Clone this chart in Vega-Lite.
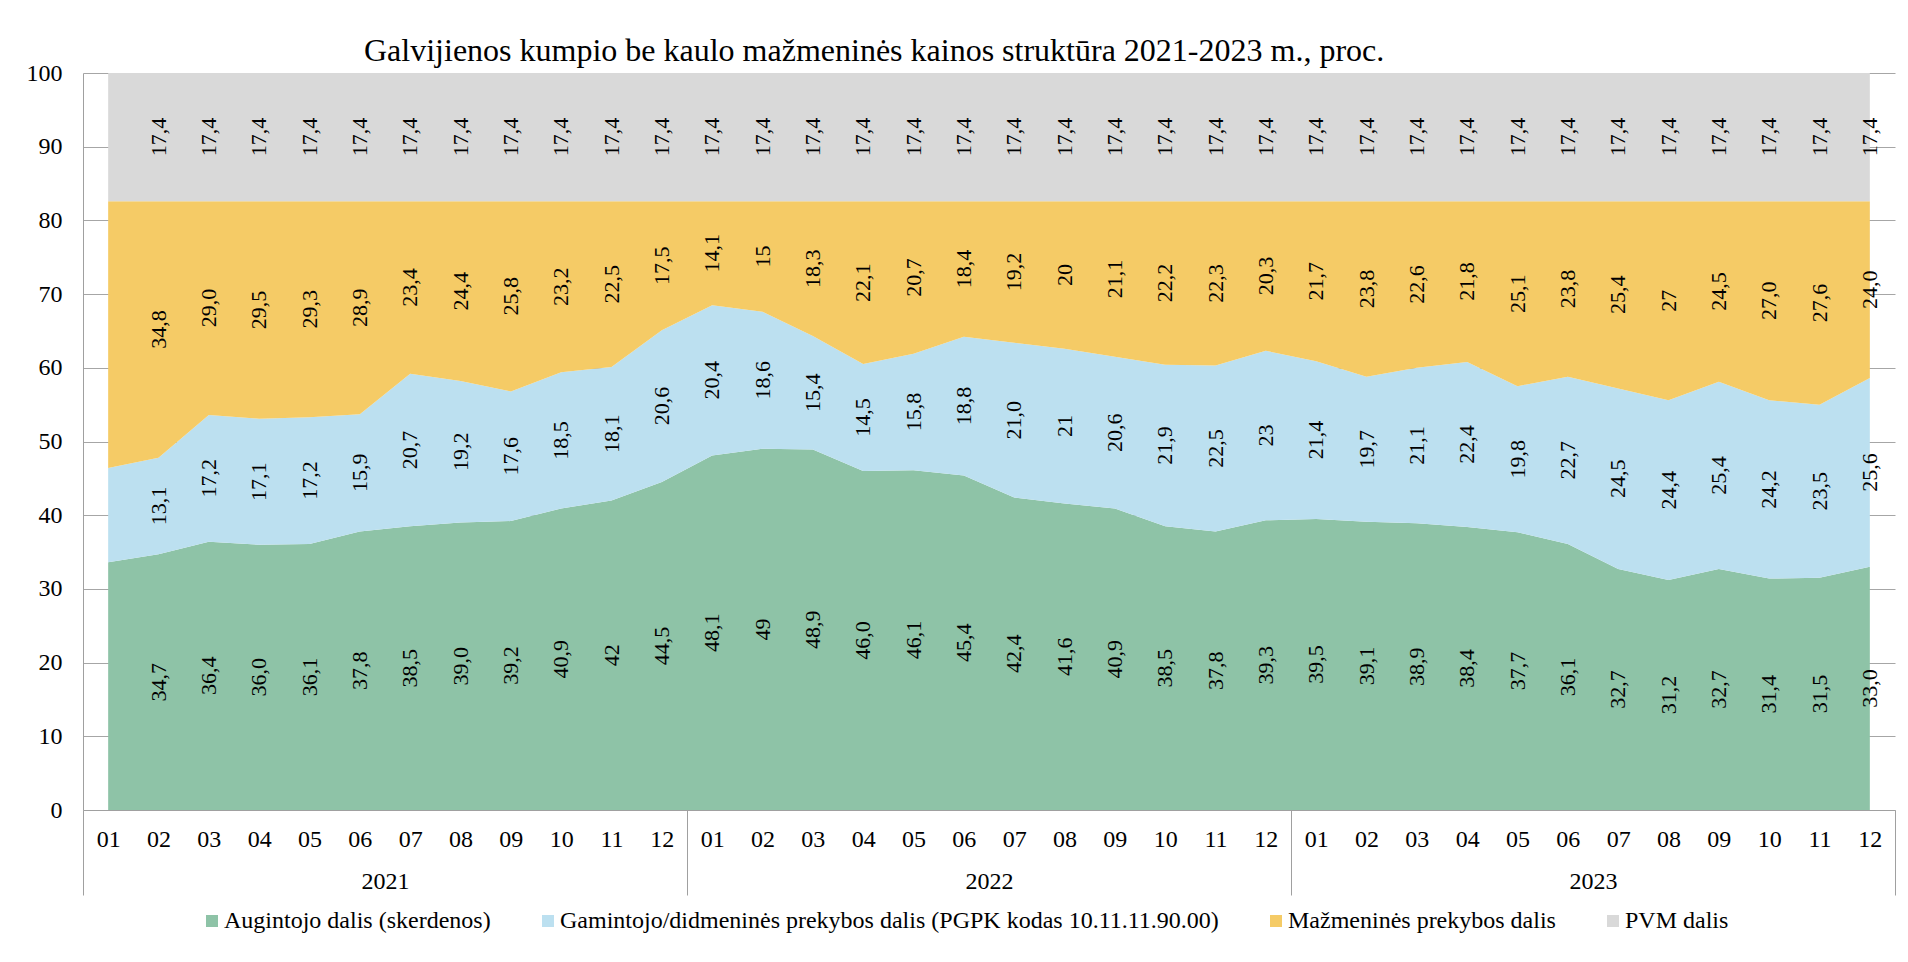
{
  "$schema": "https://vega.github.io/schema/vega-lite/v6.json",
  "autosize": {"type": "none"},
  "padding": {"left": 83, "top": 73, "right": 13, "bottom": 152},
  "width": 1812,
  "height": 737,
  "background": "white",
  "config": {"view": {"stroke": null}, "font": "Liberation Serif"},
  "title": {"text": "Galvijienos kumpio be kaulo mažmeninės kainos struktūra 2021-2023 m., proc.", "anchor": "start", "frame": "group", "dx": 281, "dy": 47, "fontSize": 32, "font": "Liberation Serif", "fontWeight": "normal", "baseline": "alphabetic", "offset": 15, "color": "#000000"},
  "datasets": {
    "years": [{"yr": "2021"}, {"yr": "2022"}, {"yr": "2023"}],
    "shares": [
      {"m":"2021-01","s":"Augintojo dalis (skerdenos)","v":33.6,"label":""},
      {"m":"2021-02","s":"Augintojo dalis (skerdenos)","v":34.7,"label":"34,7"},
      {"m":"2021-03","s":"Augintojo dalis (skerdenos)","v":36.4,"label":"36,4"},
      {"m":"2021-04","s":"Augintojo dalis (skerdenos)","v":36.0,"label":"36,0"},
      {"m":"2021-05","s":"Augintojo dalis (skerdenos)","v":36.1,"label":"36,1"},
      {"m":"2021-06","s":"Augintojo dalis (skerdenos)","v":37.8,"label":"37,8"},
      {"m":"2021-07","s":"Augintojo dalis (skerdenos)","v":38.5,"label":"38,5"},
      {"m":"2021-08","s":"Augintojo dalis (skerdenos)","v":39.0,"label":"39,0"},
      {"m":"2021-09","s":"Augintojo dalis (skerdenos)","v":39.2,"label":"39,2"},
      {"m":"2021-10","s":"Augintojo dalis (skerdenos)","v":40.9,"label":"40,9"},
      {"m":"2021-11","s":"Augintojo dalis (skerdenos)","v":42,"label":"42"},
      {"m":"2021-12","s":"Augintojo dalis (skerdenos)","v":44.5,"label":"44,5"},
      {"m":"2022-01","s":"Augintojo dalis (skerdenos)","v":48.1,"label":"48,1"},
      {"m":"2022-02","s":"Augintojo dalis (skerdenos)","v":49,"label":"49"},
      {"m":"2022-03","s":"Augintojo dalis (skerdenos)","v":48.9,"label":"48,9"},
      {"m":"2022-04","s":"Augintojo dalis (skerdenos)","v":46.0,"label":"46,0"},
      {"m":"2022-05","s":"Augintojo dalis (skerdenos)","v":46.1,"label":"46,1"},
      {"m":"2022-06","s":"Augintojo dalis (skerdenos)","v":45.4,"label":"45,4"},
      {"m":"2022-07","s":"Augintojo dalis (skerdenos)","v":42.4,"label":"42,4"},
      {"m":"2022-08","s":"Augintojo dalis (skerdenos)","v":41.6,"label":"41,6"},
      {"m":"2022-09","s":"Augintojo dalis (skerdenos)","v":40.9,"label":"40,9"},
      {"m":"2022-10","s":"Augintojo dalis (skerdenos)","v":38.5,"label":"38,5"},
      {"m":"2022-11","s":"Augintojo dalis (skerdenos)","v":37.8,"label":"37,8"},
      {"m":"2022-12","s":"Augintojo dalis (skerdenos)","v":39.3,"label":"39,3"},
      {"m":"2023-01","s":"Augintojo dalis (skerdenos)","v":39.5,"label":"39,5"},
      {"m":"2023-02","s":"Augintojo dalis (skerdenos)","v":39.1,"label":"39,1"},
      {"m":"2023-03","s":"Augintojo dalis (skerdenos)","v":38.9,"label":"38,9"},
      {"m":"2023-04","s":"Augintojo dalis (skerdenos)","v":38.4,"label":"38,4"},
      {"m":"2023-05","s":"Augintojo dalis (skerdenos)","v":37.7,"label":"37,7"},
      {"m":"2023-06","s":"Augintojo dalis (skerdenos)","v":36.1,"label":"36,1"},
      {"m":"2023-07","s":"Augintojo dalis (skerdenos)","v":32.7,"label":"32,7"},
      {"m":"2023-08","s":"Augintojo dalis (skerdenos)","v":31.2,"label":"31,2"},
      {"m":"2023-09","s":"Augintojo dalis (skerdenos)","v":32.7,"label":"32,7"},
      {"m":"2023-10","s":"Augintojo dalis (skerdenos)","v":31.4,"label":"31,4"},
      {"m":"2023-11","s":"Augintojo dalis (skerdenos)","v":31.5,"label":"31,5"},
      {"m":"2023-12","s":"Augintojo dalis (skerdenos)","v":33.0,"label":"33,0"},
      {"m":"2021-01","s":"Gamintojo/didmeninės prekybos dalis (PGPK kodas 10.11.11.90.00)","v":12.8,"label":""},
      {"m":"2021-02","s":"Gamintojo/didmeninės prekybos dalis (PGPK kodas 10.11.11.90.00)","v":13.1,"label":"13,1"},
      {"m":"2021-03","s":"Gamintojo/didmeninės prekybos dalis (PGPK kodas 10.11.11.90.00)","v":17.2,"label":"17,2"},
      {"m":"2021-04","s":"Gamintojo/didmeninės prekybos dalis (PGPK kodas 10.11.11.90.00)","v":17.1,"label":"17,1"},
      {"m":"2021-05","s":"Gamintojo/didmeninės prekybos dalis (PGPK kodas 10.11.11.90.00)","v":17.2,"label":"17,2"},
      {"m":"2021-06","s":"Gamintojo/didmeninės prekybos dalis (PGPK kodas 10.11.11.90.00)","v":15.9,"label":"15,9"},
      {"m":"2021-07","s":"Gamintojo/didmeninės prekybos dalis (PGPK kodas 10.11.11.90.00)","v":20.7,"label":"20,7"},
      {"m":"2021-08","s":"Gamintojo/didmeninės prekybos dalis (PGPK kodas 10.11.11.90.00)","v":19.2,"label":"19,2"},
      {"m":"2021-09","s":"Gamintojo/didmeninės prekybos dalis (PGPK kodas 10.11.11.90.00)","v":17.6,"label":"17,6"},
      {"m":"2021-10","s":"Gamintojo/didmeninės prekybos dalis (PGPK kodas 10.11.11.90.00)","v":18.5,"label":"18,5"},
      {"m":"2021-11","s":"Gamintojo/didmeninės prekybos dalis (PGPK kodas 10.11.11.90.00)","v":18.1,"label":"18,1"},
      {"m":"2021-12","s":"Gamintojo/didmeninės prekybos dalis (PGPK kodas 10.11.11.90.00)","v":20.6,"label":"20,6"},
      {"m":"2022-01","s":"Gamintojo/didmeninės prekybos dalis (PGPK kodas 10.11.11.90.00)","v":20.4,"label":"20,4"},
      {"m":"2022-02","s":"Gamintojo/didmeninės prekybos dalis (PGPK kodas 10.11.11.90.00)","v":18.6,"label":"18,6"},
      {"m":"2022-03","s":"Gamintojo/didmeninės prekybos dalis (PGPK kodas 10.11.11.90.00)","v":15.4,"label":"15,4"},
      {"m":"2022-04","s":"Gamintojo/didmeninės prekybos dalis (PGPK kodas 10.11.11.90.00)","v":14.5,"label":"14,5"},
      {"m":"2022-05","s":"Gamintojo/didmeninės prekybos dalis (PGPK kodas 10.11.11.90.00)","v":15.8,"label":"15,8"},
      {"m":"2022-06","s":"Gamintojo/didmeninės prekybos dalis (PGPK kodas 10.11.11.90.00)","v":18.8,"label":"18,8"},
      {"m":"2022-07","s":"Gamintojo/didmeninės prekybos dalis (PGPK kodas 10.11.11.90.00)","v":21.0,"label":"21,0"},
      {"m":"2022-08","s":"Gamintojo/didmeninės prekybos dalis (PGPK kodas 10.11.11.90.00)","v":21,"label":"21"},
      {"m":"2022-09","s":"Gamintojo/didmeninės prekybos dalis (PGPK kodas 10.11.11.90.00)","v":20.6,"label":"20,6"},
      {"m":"2022-10","s":"Gamintojo/didmeninės prekybos dalis (PGPK kodas 10.11.11.90.00)","v":21.9,"label":"21,9"},
      {"m":"2022-11","s":"Gamintojo/didmeninės prekybos dalis (PGPK kodas 10.11.11.90.00)","v":22.5,"label":"22,5"},
      {"m":"2022-12","s":"Gamintojo/didmeninės prekybos dalis (PGPK kodas 10.11.11.90.00)","v":23,"label":"23"},
      {"m":"2023-01","s":"Gamintojo/didmeninės prekybos dalis (PGPK kodas 10.11.11.90.00)","v":21.4,"label":"21,4"},
      {"m":"2023-02","s":"Gamintojo/didmeninės prekybos dalis (PGPK kodas 10.11.11.90.00)","v":19.7,"label":"19,7"},
      {"m":"2023-03","s":"Gamintojo/didmeninės prekybos dalis (PGPK kodas 10.11.11.90.00)","v":21.1,"label":"21,1"},
      {"m":"2023-04","s":"Gamintojo/didmeninės prekybos dalis (PGPK kodas 10.11.11.90.00)","v":22.4,"label":"22,4"},
      {"m":"2023-05","s":"Gamintojo/didmeninės prekybos dalis (PGPK kodas 10.11.11.90.00)","v":19.8,"label":"19,8"},
      {"m":"2023-06","s":"Gamintojo/didmeninės prekybos dalis (PGPK kodas 10.11.11.90.00)","v":22.7,"label":"22,7"},
      {"m":"2023-07","s":"Gamintojo/didmeninės prekybos dalis (PGPK kodas 10.11.11.90.00)","v":24.5,"label":"24,5"},
      {"m":"2023-08","s":"Gamintojo/didmeninės prekybos dalis (PGPK kodas 10.11.11.90.00)","v":24.4,"label":"24,4"},
      {"m":"2023-09","s":"Gamintojo/didmeninės prekybos dalis (PGPK kodas 10.11.11.90.00)","v":25.4,"label":"25,4"},
      {"m":"2023-10","s":"Gamintojo/didmeninės prekybos dalis (PGPK kodas 10.11.11.90.00)","v":24.2,"label":"24,2"},
      {"m":"2023-11","s":"Gamintojo/didmeninės prekybos dalis (PGPK kodas 10.11.11.90.00)","v":23.5,"label":"23,5"},
      {"m":"2023-12","s":"Gamintojo/didmeninės prekybos dalis (PGPK kodas 10.11.11.90.00)","v":25.6,"label":"25,6"},
      {"m":"2021-01","s":"Mažmeninės prekybos dalis","v":36.2,"label":""},
      {"m":"2021-02","s":"Mažmeninės prekybos dalis","v":34.8,"label":"34,8"},
      {"m":"2021-03","s":"Mažmeninės prekybos dalis","v":29.0,"label":"29,0"},
      {"m":"2021-04","s":"Mažmeninės prekybos dalis","v":29.5,"label":"29,5"},
      {"m":"2021-05","s":"Mažmeninės prekybos dalis","v":29.3,"label":"29,3"},
      {"m":"2021-06","s":"Mažmeninės prekybos dalis","v":28.9,"label":"28,9"},
      {"m":"2021-07","s":"Mažmeninės prekybos dalis","v":23.4,"label":"23,4"},
      {"m":"2021-08","s":"Mažmeninės prekybos dalis","v":24.4,"label":"24,4"},
      {"m":"2021-09","s":"Mažmeninės prekybos dalis","v":25.8,"label":"25,8"},
      {"m":"2021-10","s":"Mažmeninės prekybos dalis","v":23.2,"label":"23,2"},
      {"m":"2021-11","s":"Mažmeninės prekybos dalis","v":22.5,"label":"22,5"},
      {"m":"2021-12","s":"Mažmeninės prekybos dalis","v":17.5,"label":"17,5"},
      {"m":"2022-01","s":"Mažmeninės prekybos dalis","v":14.1,"label":"14,1"},
      {"m":"2022-02","s":"Mažmeninės prekybos dalis","v":15,"label":"15"},
      {"m":"2022-03","s":"Mažmeninės prekybos dalis","v":18.3,"label":"18,3"},
      {"m":"2022-04","s":"Mažmeninės prekybos dalis","v":22.1,"label":"22,1"},
      {"m":"2022-05","s":"Mažmeninės prekybos dalis","v":20.7,"label":"20,7"},
      {"m":"2022-06","s":"Mažmeninės prekybos dalis","v":18.4,"label":"18,4"},
      {"m":"2022-07","s":"Mažmeninės prekybos dalis","v":19.2,"label":"19,2"},
      {"m":"2022-08","s":"Mažmeninės prekybos dalis","v":20,"label":"20"},
      {"m":"2022-09","s":"Mažmeninės prekybos dalis","v":21.1,"label":"21,1"},
      {"m":"2022-10","s":"Mažmeninės prekybos dalis","v":22.2,"label":"22,2"},
      {"m":"2022-11","s":"Mažmeninės prekybos dalis","v":22.3,"label":"22,3"},
      {"m":"2022-12","s":"Mažmeninės prekybos dalis","v":20.3,"label":"20,3"},
      {"m":"2023-01","s":"Mažmeninės prekybos dalis","v":21.7,"label":"21,7"},
      {"m":"2023-02","s":"Mažmeninės prekybos dalis","v":23.8,"label":"23,8"},
      {"m":"2023-03","s":"Mažmeninės prekybos dalis","v":22.6,"label":"22,6"},
      {"m":"2023-04","s":"Mažmeninės prekybos dalis","v":21.8,"label":"21,8"},
      {"m":"2023-05","s":"Mažmeninės prekybos dalis","v":25.1,"label":"25,1"},
      {"m":"2023-06","s":"Mažmeninės prekybos dalis","v":23.8,"label":"23,8"},
      {"m":"2023-07","s":"Mažmeninės prekybos dalis","v":25.4,"label":"25,4"},
      {"m":"2023-08","s":"Mažmeninės prekybos dalis","v":27,"label":"27"},
      {"m":"2023-09","s":"Mažmeninės prekybos dalis","v":24.5,"label":"24,5"},
      {"m":"2023-10","s":"Mažmeninės prekybos dalis","v":27.0,"label":"27,0"},
      {"m":"2023-11","s":"Mažmeninės prekybos dalis","v":27.6,"label":"27,6"},
      {"m":"2023-12","s":"Mažmeninės prekybos dalis","v":24.0,"label":"24,0"},
      {"m":"2021-01","s":"PVM dalis","v":17.4,"label":""},
      {"m":"2021-02","s":"PVM dalis","v":17.4,"label":"17,4"},
      {"m":"2021-03","s":"PVM dalis","v":17.4,"label":"17,4"},
      {"m":"2021-04","s":"PVM dalis","v":17.4,"label":"17,4"},
      {"m":"2021-05","s":"PVM dalis","v":17.4,"label":"17,4"},
      {"m":"2021-06","s":"PVM dalis","v":17.4,"label":"17,4"},
      {"m":"2021-07","s":"PVM dalis","v":17.4,"label":"17,4"},
      {"m":"2021-08","s":"PVM dalis","v":17.4,"label":"17,4"},
      {"m":"2021-09","s":"PVM dalis","v":17.4,"label":"17,4"},
      {"m":"2021-10","s":"PVM dalis","v":17.4,"label":"17,4"},
      {"m":"2021-11","s":"PVM dalis","v":17.4,"label":"17,4"},
      {"m":"2021-12","s":"PVM dalis","v":17.4,"label":"17,4"},
      {"m":"2022-01","s":"PVM dalis","v":17.4,"label":"17,4"},
      {"m":"2022-02","s":"PVM dalis","v":17.4,"label":"17,4"},
      {"m":"2022-03","s":"PVM dalis","v":17.4,"label":"17,4"},
      {"m":"2022-04","s":"PVM dalis","v":17.4,"label":"17,4"},
      {"m":"2022-05","s":"PVM dalis","v":17.4,"label":"17,4"},
      {"m":"2022-06","s":"PVM dalis","v":17.4,"label":"17,4"},
      {"m":"2022-07","s":"PVM dalis","v":17.4,"label":"17,4"},
      {"m":"2022-08","s":"PVM dalis","v":17.4,"label":"17,4"},
      {"m":"2022-09","s":"PVM dalis","v":17.4,"label":"17,4"},
      {"m":"2022-10","s":"PVM dalis","v":17.4,"label":"17,4"},
      {"m":"2022-11","s":"PVM dalis","v":17.4,"label":"17,4"},
      {"m":"2022-12","s":"PVM dalis","v":17.4,"label":"17,4"},
      {"m":"2023-01","s":"PVM dalis","v":17.4,"label":"17,4"},
      {"m":"2023-02","s":"PVM dalis","v":17.4,"label":"17,4"},
      {"m":"2023-03","s":"PVM dalis","v":17.4,"label":"17,4"},
      {"m":"2023-04","s":"PVM dalis","v":17.4,"label":"17,4"},
      {"m":"2023-05","s":"PVM dalis","v":17.4,"label":"17,4"},
      {"m":"2023-06","s":"PVM dalis","v":17.4,"label":"17,4"},
      {"m":"2023-07","s":"PVM dalis","v":17.4,"label":"17,4"},
      {"m":"2023-08","s":"PVM dalis","v":17.4,"label":"17,4"},
      {"m":"2023-09","s":"PVM dalis","v":17.4,"label":"17,4"},
      {"m":"2023-10","s":"PVM dalis","v":17.4,"label":"17,4"},
      {"m":"2023-11","s":"PVM dalis","v":17.4,"label":"17,4"},
      {"m":"2023-12","s":"PVM dalis","v":17.4,"label":"17,4"}
    ]
  },
  "layer": [
    {
      "data": {"name": "shares"},
      "mark": {"type": "area", "interpolate": "linear"},
      "encoding": {
        "x": {"field": "m", "type": "ordinal", "scale": {"type": "point", "padding": 0.5},
          "axis": {"orient": "bottom", "title": null, "labelExpr": "slice(datum.value, 5)", "labelAngle": 0, "ticks": false, "grid": false, "domain": true, "domainColor": "#a0a0a0", "domainWidth": 1, "labelFont": "Liberation Serif", "labelFontSize": 24, "labelColor": "#000000", "labelBaseline": "middle", "labelPadding": 29}},
        "y": {"field": "v", "type": "quantitative", "stack": "zero", "title": null, "scale": {"domain": [0, 100], "nice": false},
          "axis": {"title": null, "values": [0,10,20,30,40,50,60,70,80,90,100], "ticks": false, "grid": true, "gridColor": "#a6a6a6", "gridWidth": 1, "domain": true, "domainColor": "#a0a0a0", "domainWidth": 1, "labelFont": "Liberation Serif", "labelFontSize": 24, "labelColor": "#000000", "labelPadding": 21}},
        "color": {"field": "s", "type": "nominal",
          "scale": {"domain": ["Augintojo dalis (skerdenos)", "Gamintojo/didmeninės prekybos dalis (PGPK kodas 10.11.11.90.00)", "Mažmeninės prekybos dalis", "PVM dalis"], "range": ["#8EC3A7", "#BCE0F0", "#F5CB66", "#D9D9D9"]},
          "legend": {"title": null, "orient": "none", "legendX": 117, "legendY": 836, "direction": "horizontal", "symbolType": "square", "symbolSize": 144, "symbolStrokeWidth": 0, "labelFont": "Liberation Serif", "labelFontSize": 24, "labelColor": "#000000", "labelOffset": 0, "columnPadding": 45, "labelLimit": 0}},
        "order": {"field": "s", "sort": "ascending"}
      }
    },
    {
      "data": {"name": "shares"},
      "transform": [
        {"stack": "v", "groupby": ["m"], "sort": [{"field": "s", "order": "ascending"}], "as": ["lo", "hi"]},
        {"fold": ["lo", "hi"], "as": ["edge", "pos"]},
        {"aggregate": [{"op": "mean", "field": "pos", "as": "mid"}], "groupby": ["m", "s", "label"]}
      ],
      "mark": {"type": "text", "angle": 270, "align": "center", "baseline": "middle", "font": "Liberation Serif", "fontSize": 22, "color": "#000000"},
      "encoding": {
        "x": {"field": "m", "type": "ordinal", "scale": {"type": "point", "padding": 0.5}, "axis": null},
        "y": {"field": "mid", "type": "quantitative", "title": null},
        "text": {"field": "label", "type": "nominal"}
      }
    },
    {
      "data": {"name": "years"},
      "mark": {"type": "rect", "opacity": 0},
      "encoding": {
        "x": {"field": "yr", "type": "ordinal", "scale": {"type": "band", "paddingInner": 0, "paddingOuter": 0},
          "axis": {"orient": "bottom", "title": null, "domain": false, "ticks": true, "tickBand": "extent", "tickSize": 85, "tickColor": "#a0a0a0", "tickWidth": 1, "labelAngle": 0, "labelFont": "Liberation Serif", "labelFontSize": 24, "labelColor": "#000000", "labelBaseline": "middle", "labelPadding": -14}}
      }
    }
  ],
  "resolve": {"scale": {"x": "independent"}, "axis": {"x": "independent"}}
}
